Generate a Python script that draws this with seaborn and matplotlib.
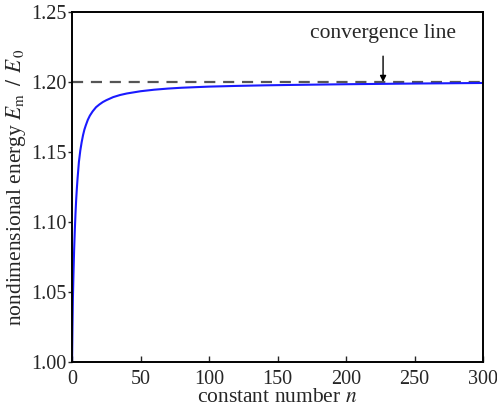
import matplotlib
matplotlib.use("Agg")
import matplotlib.pyplot as plt
import seaborn as sns
import pandas as pd

# Values
n_values = [0, 0.3, 0.6, 1.0, 1.5, 2.0, 2.5, 3.0, 3.5, 4.0, 5.0, 6.0, 7.0, 8.0, 9.0,
            10.0, 11.5, 13.0, 15.0, 17.5, 20.0, 22.5, 25.0, 30.0, 35.0, 40.0, 50.0,
            60.0, 70.0, 80.0, 100.0, 120.0, 140.0, 160.0, 200.0, 250.0, 300.0]
energy_ratio = [1.000, 1.025, 1.045, 1.062, 1.080, 1.094, 1.106, 1.116, 1.124, 1.131,
                1.143, 1.151, 1.157, 1.162, 1.166, 1.169, 1.173, 1.176, 1.179, 1.182,
                1.184, 1.1857, 1.187, 1.1892, 1.1907, 1.1918, 1.1934, 1.1945, 1.1953,
                1.1959, 1.1967, 1.1972, 1.1976, 1.1979, 1.1984, 1.1989, 1.1993]
convergence_value = 1.20
x_ticks = [0, 50, 100, 150, 200, 250, 300]
y_ticks = [1.00, 1.05, 1.10, 1.15, 1.20, 1.25]
annotation_text = "convergence line"
annotation_n = 227

sns.set_style("ticks")
plt.rcParams["font.family"] = ["Liberation Serif", "DejaVu Serif"]
plt.rcParams["mathtext.fontset"] = "stix"

df = pd.DataFrame({"n": n_values, "E": energy_ratio})

fig = plt.figure(figsize=(4.97, 4.12), dpi=100)
ax = fig.add_axes([0.145, 0.121, 0.827, 0.850])

ax.axhline(convergence_value, color="#555555", lw=1.6, ls=(0, (5, 3.5)), zorder=1)
sns.lineplot(data=df, x="n", y="E", ax=ax, color="#1a1aff", lw=1.5, zorder=2)

ax.set_xlim(0, 300)
ax.set_ylim(1.00, 1.25)
ax.set_xticks(x_ticks)
ax.set_yticks(y_ticks)
ax.set_xticklabels([str(t) for t in x_ticks])
ax.set_yticklabels([f"{t:.2f}" for t in y_ticks])
ax.tick_params(axis="x", direction="in", length=4, width=1, labelsize=14.5, pad=6)
ax.tick_params(axis="y", direction="out", length=3, width=1, labelsize=14.5, pad=1)
for s in ax.spines.values():
    s.set_linewidth(1.4)
    s.set_color("black")
    s.set_visible(True)

ax.set_xlabel(r"constant number $n$", fontsize=15.5, labelpad=-1)
ax.set_ylabel(r"nondimensional energy $E_{\rm m}\ \,/\ \,E_{\,0}$", fontsize=15.5, labelpad=2)

ax.annotate(annotation_text, xy=(annotation_n, convergence_value),
            xytext=(annotation_n, 1.2345), ha="center", va="center", fontsize=15.5,
            arrowprops=dict(arrowstyle="-|>", color="black", lw=1.0,
                            mutation_scale=9, shrinkA=7, shrinkB=0))

fig.savefig("out.png", dpi=100)
